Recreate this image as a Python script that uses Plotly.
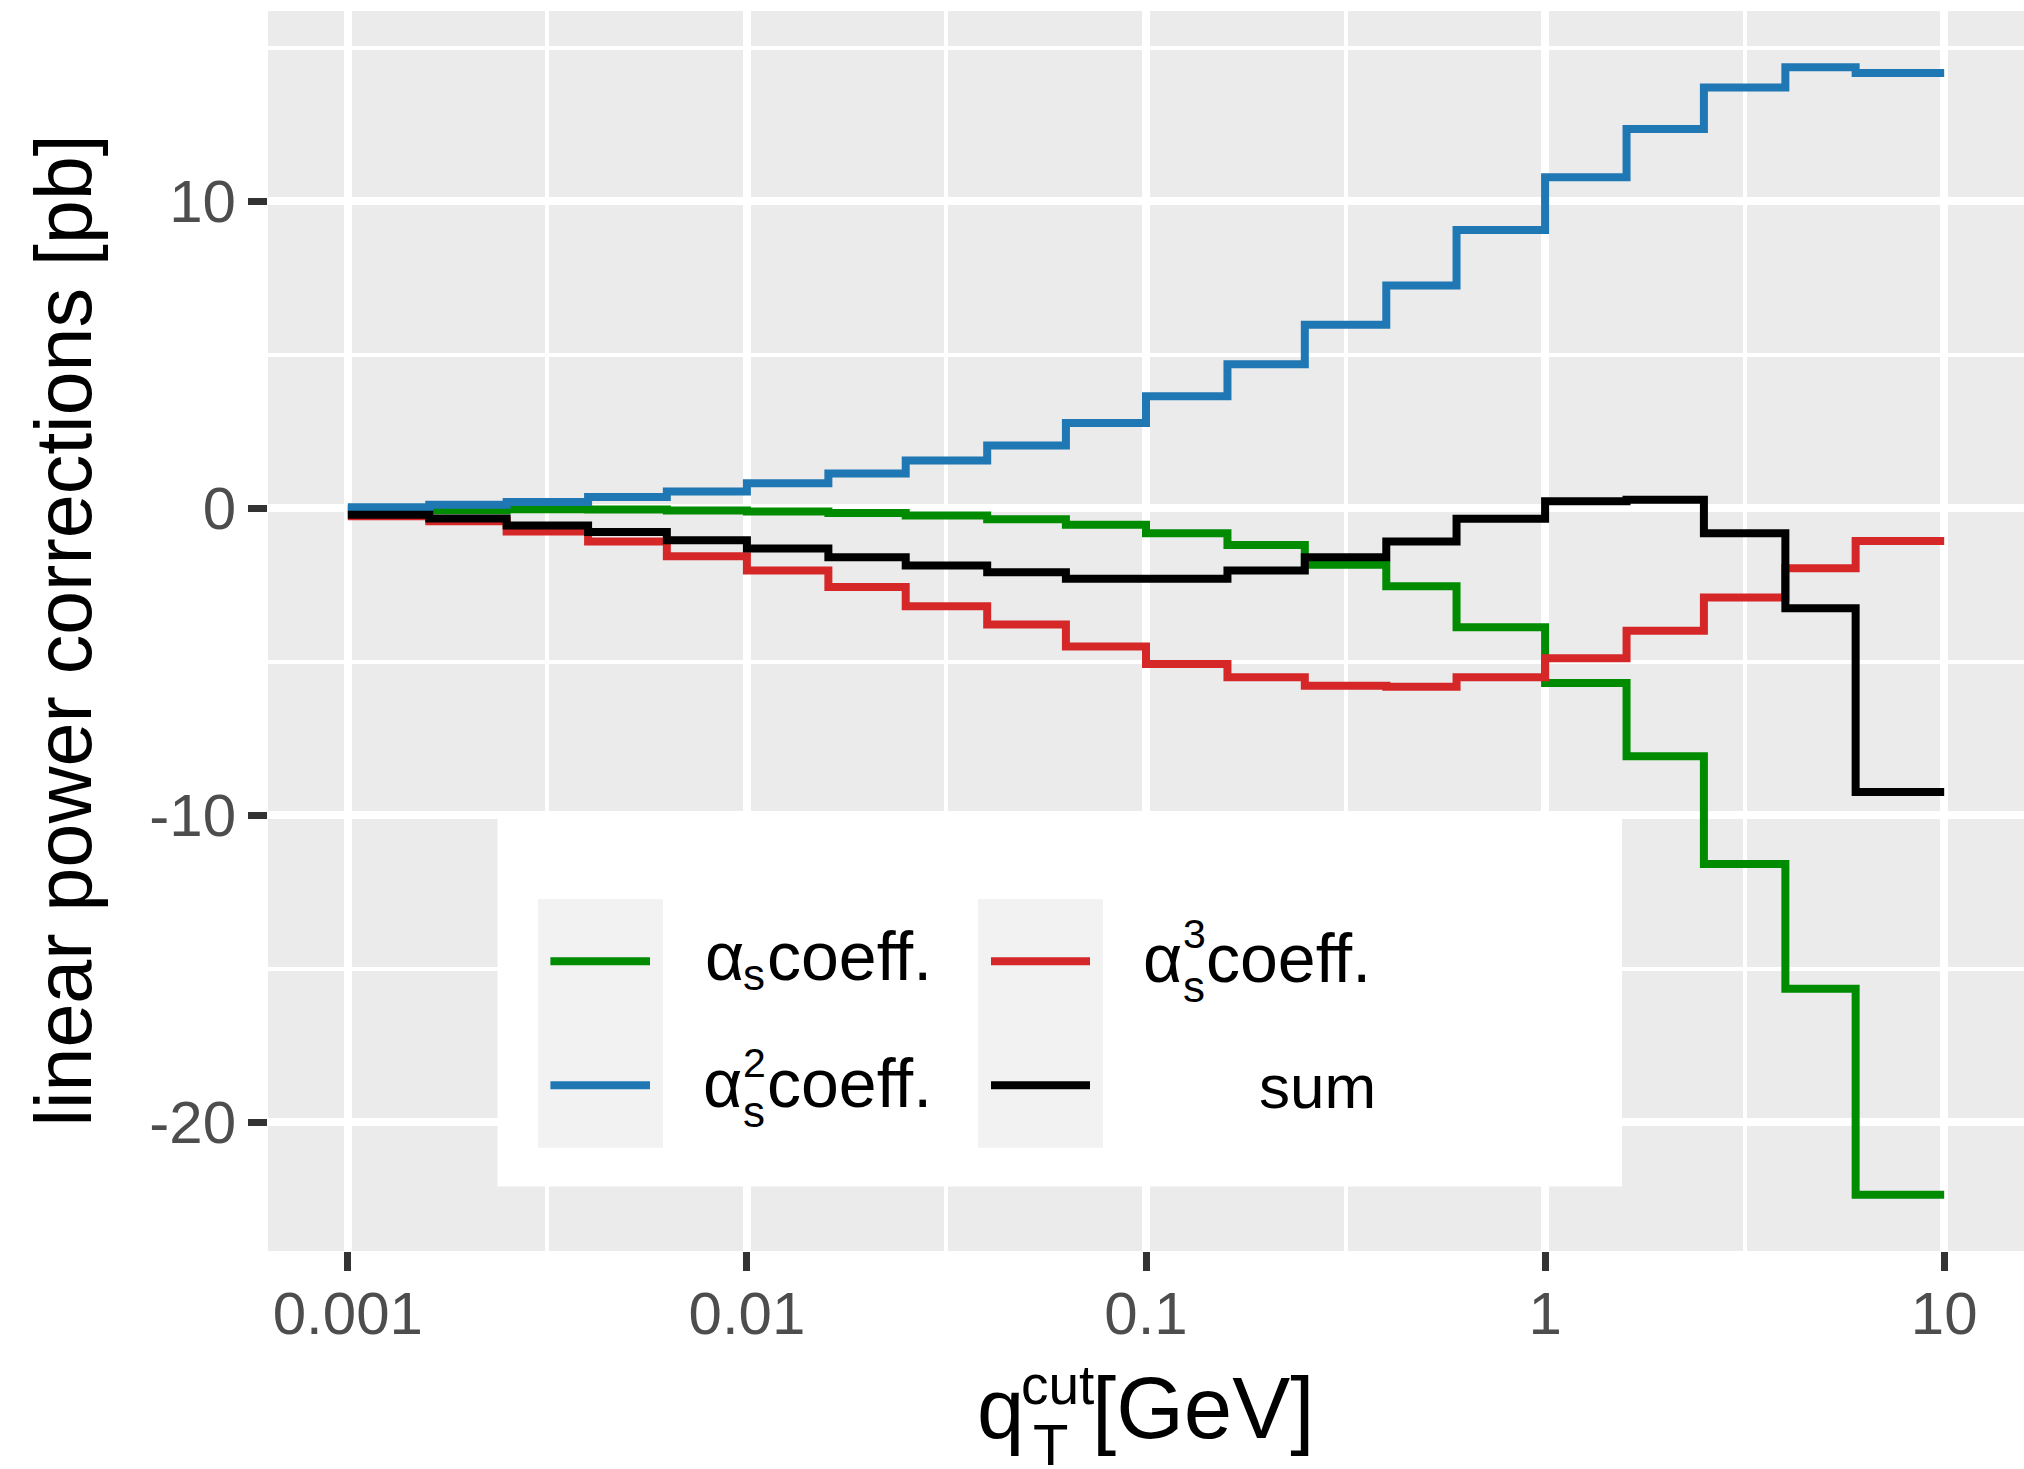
import plotly.graph_objects as go

# ---------------- data ----------------
bin_edges = [0.001, 0.0016, 0.0025, 0.004, 0.0063, 0.01, 0.016, 0.025, 0.04, 0.063,
             0.1, 0.16, 0.25, 0.4, 0.6, 1, 1.6, 2.5, 4, 6, 10]

as1_coeff = [-0.02, -0.06, -0.03, -0.04, -0.07, -0.10, -0.15, -0.23, -0.35, -0.53,
             -0.81, -1.19, -1.84, -2.54, -3.87, -5.69, -8.08, -11.59, -15.65, -22.36]
as2_coeff = [0.04, 0.12, 0.21, 0.37, 0.55, 0.82, 1.14, 1.56, 2.05, 2.78,
             3.65, 4.70, 5.98, 7.26, 9.07, 10.79, 12.36, 13.71, 14.37, 14.19]
as3_coeff = [-0.26, -0.42, -0.75, -1.08, -1.56, -2.02, -2.56, -3.19, -3.78, -4.50,
             -5.07, -5.50, -5.78, -5.81, -5.50, -4.88, -3.99, -2.90, -1.95, -1.06]
sum_coeff = [-0.21, -0.33, -0.56, -0.77, -1.04, -1.31, -1.59, -1.86, -2.08, -2.29,
             -2.29, -2.02, -1.59, -1.08, -0.34, 0.23, 0.28, -0.81, -3.25, -9.24]

series_names = ["as", "as2", "as3", "sum"]
series_colors = ["#008B00", "#1F77B4", "#D62728", "#000000"]

x_tickvals = [0.001, 0.01, 0.1, 1, 10]
x_ticktext = ["0.001", "0.01", "0.1", "1", "10"]
x_minor = [10 ** -2.5, 10 ** -1.5, 10 ** -0.5, 10 ** 0.5]
y_tickvals = [-20, -10, 0, 10]
y_ticktext = ["-20", "-10", "0", "10"]
y_minor = [-15, -5, 5, 15]

# ---------------- figure ----------------
W, H = 2024, 1469
ML, MR, MT, MB = 268, 0, 11, 218
PW, PH = W - ML - MR, H - MT - MB
FONT = "Liberation Sans, Arial, Helvetica, sans-serif"


def px(x):
    return (x - ML) / PW


def py(y):
    return (MT + PH - y) / PH


fig = go.Figure()
all_series = [as1_coeff, as2_coeff, as3_coeff, sum_coeff]
for name, vals, col in zip(series_names, all_series, series_colors):
    fig.add_trace(go.Scatter(
        x=bin_edges, y=list(vals) + [vals[-1]], mode="lines", name=name,
        line=dict(color=col, width=8, shape="hv"), showlegend=False,
    ))

allv = [v for s in all_series for v in s]
ymin, ymax = min(allv), max(allv)
pad = 0.05 * (ymax - ymin)

axis_common = dict(
    tickmode="array", ticks="outside", ticklen=19, tickwidth=7, tickcolor="#333333",
    tickfont=dict(size=60, color="#4D4D4D", family=FONT),
    showgrid=True, gridcolor="white", gridwidth=8,
    zeroline=False, showline=False,
)

fig.update_layout(
    width=W, height=H,
    margin=dict(l=ML, r=MR, t=MT, b=MB, pad=0),
    paper_bgcolor="white", plot_bgcolor="#EBEBEB",
    font=dict(family=FONT, color="black"),
    xaxis=dict(
        type="log", range=[-3.2, 1.2], tickvals=x_tickvals, ticktext=x_ticktext,
        ticklabelstandoff=-9,
        minor=dict(tickvals=x_minor, showgrid=True, gridcolor="white", gridwidth=4, ticks=""),
        **axis_common,
    ),
    yaxis=dict(
        range=[ymin - pad, ymax + pad], tickvals=y_tickvals, ticktext=y_ticktext,
        minor=dict(tickvals=y_minor, showgrid=True, gridcolor="white", gridwidth=4, ticks=""),
        **axis_common,
    ),
)

# ---------------- legend (manual, ggplot style) ----------------
shapes = []
shapes.append(dict(type="rect", xref="paper", yref="paper",
                   x0=px(497.5), x1=px(1622), y0=py(1186.5), y1=py(819),
                   fillcolor="white", line=dict(width=0), layer="above"))
for kx0, kx1 in [(538, 663), (978, 1103)]:
    shapes.append(dict(type="rect", xref="paper", yref="paper",
                       x0=px(kx0), x1=px(kx1), y0=py(1147.7), y1=py(899),
                       fillcolor="#F2F2F2", line=dict(width=0), layer="above"))
key_pos = [(550.4, 650, 961.3), (550.4, 650, 1085.3), (991, 1090, 961.3), (991, 1090, 1085.3)]
for (lx0, lx1, ly), col in zip(key_pos, series_colors):
    shapes.append(dict(type="line", xref="paper", yref="paper",
                       x0=px(lx0), x1=px(lx1), y0=py(ly), y1=py(ly),
                       line=dict(color=col, width=8), layer="above"))
fig.update_layout(shapes=shapes)

ann = []


def add_text(text, x, y, size, xanchor="left", color="black", angle=0):
    ann.append(dict(text=text, x=px(x), y=py(y), xref="paper", yref="paper",
                    xanchor=xanchor, yanchor="middle", showarrow=False,
                    textangle=angle, font=dict(size=size, color=color, family=FONT)))


LS = 68
# row 1, col 1 : alpha_s coeff.
add_text("α", 703, 955.7, LS)
add_text("s", 741, 974.8, 44)
add_text("coeff.", 765, 955.7, LS)
# row 2, col 1 : alpha_s^2 coeff.
add_text("α", 701, 1083.1, LS)
add_text("2", 741, 1062.8, 41)
add_text("s", 741, 1111.8, 44)
add_text("coeff.", 765, 1083.1, LS)
# row 1, col 2 : alpha_s^3 coeff.
add_text("α", 1141, 958.1, LS)
add_text("3", 1181, 933.8, 41)
add_text("s", 1181, 986.8, 44)
add_text("coeff.", 1204, 958.1, LS)
# row 2, col 2 : sum
add_text("sum", 1378, 1086.8, 62, xanchor="right")

# x axis title: q_T^cut [GeV]
add_text("q", 975, 1408, 85)
add_text("T", 1031, 1444, 58)
add_text("cut", 1019, 1385, 55)
add_text("[GeV]", 1090, 1407, 87)
# y axis title
add_text("linear power corrections [pb]", 62.6, 631, 79, xanchor="center", angle=-90)

fig.update_layout(annotations=ann)

fig.write_html("out.html")
